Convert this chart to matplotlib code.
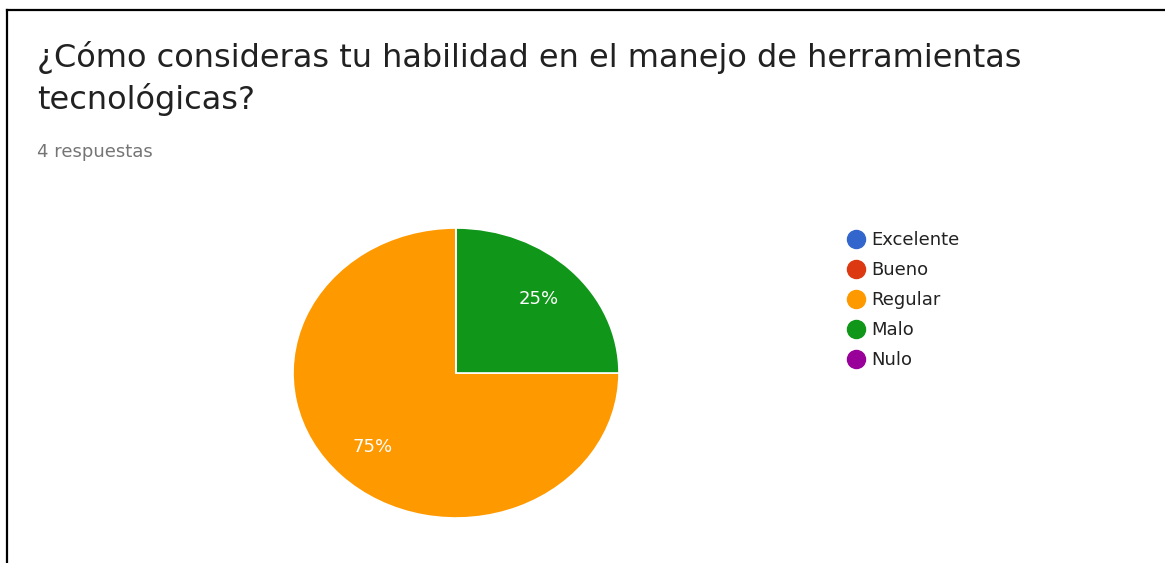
import matplotlib
matplotlib.use('Agg')
import matplotlib.pyplot as plt
from matplotlib.lines import Line2D

plt.rcParams['font.family'] = ['DejaVu Sans']

# Datos de la encuesta
title_lines = ['¿Cómo consideras tu habilidad en el manejo de herramientas', 'tecnológicas?']
subtitle = '4 respuestas'
categories = ['Excelente', 'Bueno', 'Regular', 'Malo', 'Nulo']
counts = [0, 0, 3, 1, 0]
colors = ['#3366cc', '#dc3912', '#ff9900', '#109618', '#990099']

W, H = 1165, 563
fig = plt.figure(figsize=(W / 100, H / 100), dpi=100)
fig.patch.set_facecolor('white')

# marco negro (arriba e izquierda)
fig.add_artist(Line2D([6.5 / W, 1.0], [1 - 9.5 / H, 1 - 9.5 / H], color='black', lw=1.6))
fig.add_artist(Line2D([6.5 / W, 6.5 / W], [0.0, 1 - 9.5 / H], color='black', lw=1.6))

# título y subtítulo
fig.text(37 / W, 1 - 67 / H, title_lines[0], fontsize=23, color='#212121', va='baseline')
fig.text(37 / W, 1 - 109 / H, title_lines[1], fontsize=23, color='#212121', va='baseline')
fig.text(37 / W, 1 - 157 / H, subtitle, fontsize=13, color='#757575', va='baseline')

# pastel
cx, cy, rx, ry = 456, 373, 163, 145
ax = fig.add_axes([(cx - rx) / W, (H - cy - ry) / H, 2 * rx / W, 2 * ry / H])


def fmt(p):
    return f'{p:.0f}%' if p > 0 else ''


wedges, _, autotexts = ax.pie(counts, colors=colors, startangle=90, counterclock=True,
                              autopct=fmt, pctdistance=0.72,
                              wedgeprops=dict(edgecolor='white', linewidth=1.2),
                              textprops=dict(color='white', fontsize=13))
ax.set_aspect('auto')
ax.set_xlim(-1, 1)
ax.set_ylim(-1, 1)
ax.axis('off')

# leyenda
handles = [Line2D([], [], marker='o', linestyle='', markersize=13,
                  markerfacecolor=c, markeredgecolor=c) for c in colors]
fig.legend(handles, categories, loc='upper left', bbox_to_anchor=(838 / W, 1 - 222 / H),
           frameon=False, fontsize=13, handletextpad=0.35, labelspacing=0.67,
           handlelength=1.0, borderpad=0, labelcolor='#222222')

fig.savefig('out.png', dpi=100, facecolor='white')
